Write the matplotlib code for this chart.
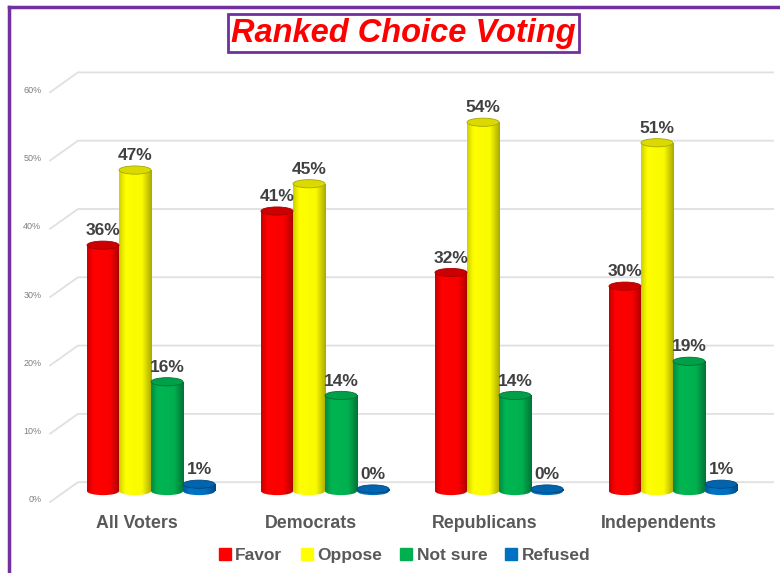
import numpy as np
import matplotlib.pyplot as plt
from matplotlib.patches import Rectangle, Ellipse
from matplotlib.lines import Line2D
from matplotlib.colors import LinearSegmentedColormap

plt.rcParams['font.family'] = ['Liberation Sans', 'DejaVu Sans']

groups = ['All Voters', 'Democrats', 'Republicans', 'Independents']
series = ['Favor', 'Oppose', 'Not sure', 'Refused']
favor = [36, 41, 32, 30]
oppose = [47, 45, 54, 51]
not_sure = [16, 14, 14, 19]
refused = [1, 0, 0, 1]
ticks = [0, 10, 20, 30, 40, 50, 60]
tick_labels = ['0%', '10%', '20%', '30%', '40%', '50%', '60%']

values = [favor, oppose, not_sure, refused]
# (left edge, highlight, body, right edge, top)
shades = [
    ('#C80000', '#FF0000', '#FA0000', '#A80000', '#CC0000'),
    ('#CFCF00', '#FFFF00', '#FAFA00', '#A8A800', '#DADA00'),
    ('#008A40', '#00B652', '#00B050', '#007236', '#00A048'),
    ('#00579A', '#0074C6', '#0070C0', '#004880', '#0064AE'),
]
legend_colors = ['#FF0000', '#FFFF00', '#00B050', '#0070C0']

fig = plt.figure(figsize=(7.8, 5.73), dpi=100)
ax = fig.add_axes([0, 0, 1, 1])
ax.set_xlim(-0.868, 3.615)
ax.set_ylim(-12.0, 71.9)
ax.axis('off')

# back wall gridlines with perspective stub
for t, lab in zip(ticks, tick_labels):
    ax.plot([-0.58, -0.42, 3.575], [t - 1.6, t + 1.3, t + 1.3],
            color='#E0E0E0', lw=1.3, zorder=1)
    ax.text(-0.63, t - 1.3, lab, ha='right', va='center', fontsize=6.5,
            color='#7F7F7F')

w = 0.184
eh = 1.2
grad = np.linspace(0, 1, 256).reshape(1, -1)

for s in range(4):
    left, hi, body, right, top = shades[s]
    cmap = LinearSegmentedColormap.from_list('c%d' % s,
        [(0, left), (0.2, hi), (0.7, body), (1, right)])
    for i, v in enumerate(values[s]):
        xc = i + (s - 1.5) * w
        x0 = xc - w / 2
        h = max(v, 0.3)
        rect = Rectangle((x0, 0), w, h, fc='none', ec='none', zorder=3)
        bot = Ellipse((xc, 0), w, eh, fc='none', ec='none', zorder=3)
        ax.add_patch(rect)
        ax.add_patch(bot)
        for clip in (rect, bot):
            im = ax.imshow(grad, cmap=cmap, aspect='auto', interpolation='bicubic',
                           extent=(x0, x0 + w, -eh, h), zorder=3)
            im.set_clip_path(clip)
        ax.add_patch(Ellipse((xc, h), w, eh, fc=top, ec=right, lw=0.6, zorder=4))
        ax.text(xc, h + 1.0, '%d%%' % v, ha='center', va='bottom', fontsize=12.5,
                fontweight='bold', color='#404040', zorder=5)

for i, g in enumerate(groups):
    ax.text(i - 0.08, -4.7, g, ha='center', va='center', fontsize=12.8,
            fontweight='bold', color='#595959')

handles = [Line2D([], [], marker='s', ls='', color=c, markersize=8) for c in legend_colors]
ax.legend(handles, series, loc='center', bbox_to_anchor=(0.517, 0.03), ncol=4,
          frameon=False, prop={'weight': 'bold', 'size': 12.5}, labelcolor='#595959',
          handletextpad=0.1, columnspacing=0.9, handlelength=1.0)

fig.text(0.517, 0.942, 'Ranked Choice Voting', ha='center', va='center',
         fontsize=23.5, style='italic', fontweight='bold', color='#FF0000',
         bbox=dict(boxstyle='square,pad=0.1', fc='white', ec='#7030A0', lw=2))

# outer purple frame (left and top edges)
fig.add_artist(Line2D([0.0115, 0.0115], [0, 0.988], color='#7030A0', lw=2.5))
fig.add_artist(Line2D([0.0115, 1.0], [0.988, 0.988], color='#7030A0', lw=2.5))

fig.savefig('out.png', dpi=100)
